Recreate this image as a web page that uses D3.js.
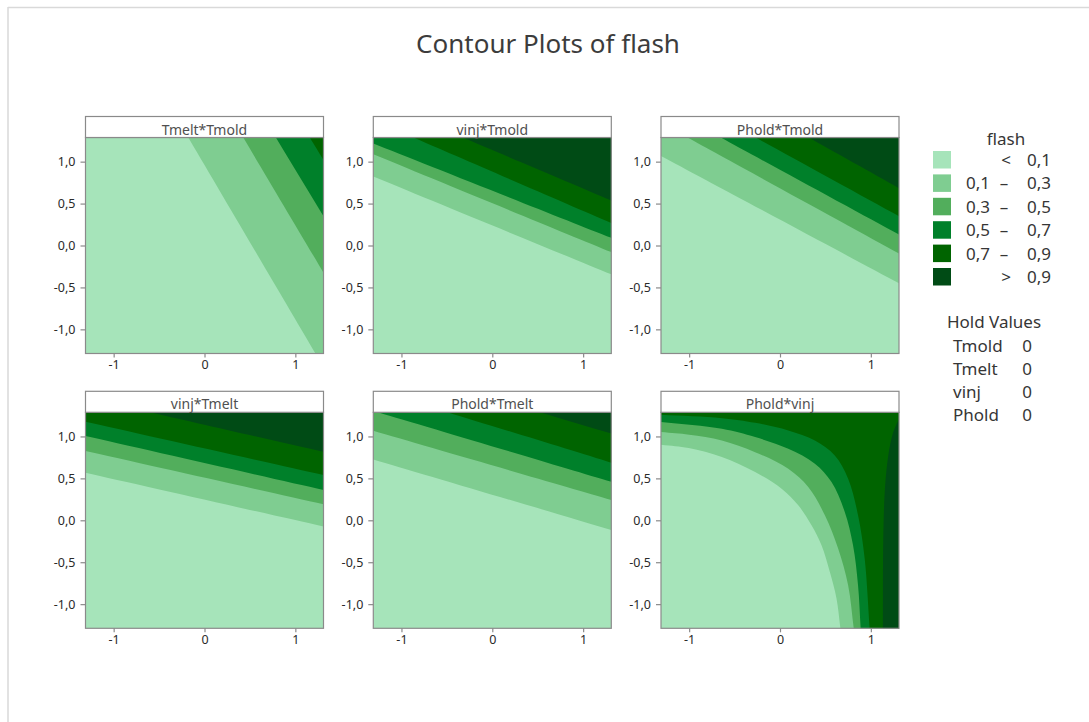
<!DOCTYPE html>
<html>
<head>
<meta charset="utf-8">
<script src="https://cdn.jsdelivr.net/npm/d3@7"></script>
<style>
  html, body { margin: 0; padding: 0; background: #ffffff; }
  svg { display: block; font-family: "Noto Sans", "Open Sans", sans-serif; }
</style>
</head>
<body>
<svg id="chart" width="1089" height="722"></svg>
<script>
// ---- Data -------------------------------------------------------------
// Contour levels of the response "flash" and the band labels of the legend
const levels = [0.1, 0.3, 0.5, 0.7, 0.9];
const bandLabels = [["<", "0,1"], ["0,1", "0,3"], ["0,3", "0,5"], ["0,5", "0,7"], ["0,7", "0,9"], [">", "0,9"]];
const bandColors = ["#a6e4ba", "#7fcd91", "#52ae5c", "#00802a", "#006400", "#004b15"];

const panelTitles = ["Tmelt*Tmold", "vinj*Tmold", "Phold*Tmold", "vinj*Tmelt", "Phold*Tmelt", "Phold*vinj"];
const xTicks = [-1, 0, 1];
const yTicks = [-1, -0.5, 0, 0.5, 1];
const factorRangeX = [-1.31, 1.31];
const factorRangeY = [-1.288, 1.288];

const holdFactors = ["Tmold", "Tmelt", "vinj", "Phold"];
const holdValues = [0, 0, 0, 0];

// Contour boundaries (coded units): each boundary separates the band below
// its level from the band above it (upper-right side).
const tmeltTmold = [
  { level: 0.1, path: [[-0.18, 1.29], [1.223, -1.29]] },
  { level: 0.3, path: [[0.425, 1.29], [1.31, -0.324]] },
  { level: 0.5, path: [[0.784, 1.29], [1.31, 0.348]] },
  { level: 0.7, path: [[1.157, 1.29], [1.31, 1.02]] }
];
const vinjTmold = [
  { level: 0.1, path: [[-1.31, 0.822], [1.31, -0.344]] },
  { level: 0.3, path: [[-1.31, 1.087], [1.31, -0.079]] },
  { level: 0.5, path: [[-1.31, 1.217], [1.31, 0.091]] },
  { level: 0.7, path: [[-0.876, 1.29], [1.31, 0.269]] },
  { level: 0.9, path: [[-0.331, 1.29], [1.31, 0.538]] }
];
const pholdTmold = [
  { level: 0.1, path: [[-1.31, 1.067], [1.31, -0.451]] },
  { level: 0.3, path: [[-1.024, 1.29], [1.31, -0.095]] },
  { level: 0.5, path: [[-0.658, 1.29], [1.31, 0.130]] },
  { level: 0.7, path: [[-0.274, 1.29], [1.31, 0.348]] },
  { level: 0.9, path: [[0.311, 1.29], [1.31, 0.684]] }
];
const vinjTmelt = [
  { level: 0.1, path: [[-1.31, 0.567], [1.31, -0.075]] },
  { level: 0.3, path: [[-1.31, 0.825], [1.31, 0.19]] },
  { level: 0.5, path: [[-1.31, 1.004], [1.31, 0.361]] },
  { level: 0.7, path: [[-1.31, 1.175], [1.31, 0.54]] },
  { level: 0.9, path: [[-0.603, 1.29], [1.31, 0.817]] }
];
const pholdTmelt = [
  { level: 0.1, path: [[-1.31, 0.726], [1.31, -0.115]] },
  { level: 0.3, path: [[-1.31, 1.067], [1.31, 0.242]] },
  { level: 0.5, path: [[-1.26, 1.29], [1.31, 0.46]] },
  { level: 0.7, path: [[-0.495, 1.29], [1.31, 0.687]] },
  { level: 0.9, path: [[0.524, 1.29], [1.31, 1.036]] }
];
const pholdVinj = [
  { level: 0.1, path: [[-1.31, 0.90], [-1.005, 0.861], [-0.64, 0.754], [-0.274, 0.575], [0.018, 0.377],
                       [0.201, 0.179], [0.347, -0.06], [0.457, -0.298], [0.548, -0.615], [0.622, -0.933], [0.665, -1.29]] },
  { level: 0.3, path: [[-1.31, 1.052], [-1.0, 1.02], [-0.64, 0.952], [-0.274, 0.813], [0.091, 0.615],
                       [0.311, 0.397], [0.494, 0.06], [0.64, -0.337], [0.75, -0.774], [0.812, -1.29]] },
  { level: 0.5, path: [[-1.31, 1.171], [-0.64, 1.091], [-0.274, 0.992], [0.091, 0.853], [0.384, 0.675],
                       [0.567, 0.456], [0.713, 0.099], [0.804, -0.298], [0.859, -0.774], [0.888, -1.29]] },
  { level: 0.7, path: [[-1.31, 1.258], [-0.64, 1.218], [-0.274, 1.163], [0.091, 1.071], [0.384, 0.952],
                       [0.603, 0.774], [0.75, 0.496], [0.859, 0.06], [0.932, -0.456], [0.987, -1.29]] },
  { level: 0.9, path: [[1.31, 1.202], [1.284, 1.151], [1.236, 1.012], [1.192, 0.774], [1.155, 0.377],
                       [1.137, -0.218], [1.133, -1.29]] }
];

const panelBoundaries = [tmeltTmold, vinjTmold, pholdTmold, vinjTmelt, pholdTmelt, pholdVinj];

// ---- Layout -----------------------------------------------------------
const svg = d3.select("#chart");
const textColor = "#363636";
const frameColor = "#8a8a8a";
const colLeft = [85.5, 373.3, 661];
const rowTop = [137.5, 412.3];
const plotW = 238, plotH = 216, stripH = 21;
const legendFont = 17;

const locale = d3.formatLocale({ decimal: ",", thousands: ".", grouping: [3], currency: ["", ""], minus: "-" });
const fmtY = locale.format(".1f");
const fmtX = locale.format("d");

// Outer page frame
svg.append("line").attr("x1", 8).attr("x2", 1089).attr("y1", 7.5).attr("y2", 7.5)
  .attr("stroke", "#d9d9d9").attr("stroke-width", 1.5);
svg.append("line").attr("x1", 8).attr("x2", 8).attr("y1", 7).attr("y2", 722)
  .attr("stroke", "#d9d9d9").attr("stroke-width", 1.5);

// Title
svg.append("text").attr("x", 548).attr("y", 53).attr("text-anchor", "middle")
  .attr("font-size", 26).attr("fill", "#3c3c3c").text("Contour Plots of flash");

const defs = svg.append("defs");
const BIG = 6;

// Prolong the ends of a boundary so the filled region always covers the panel edges
function extendEnds(pts) {
  const ext = (a, b) => {
    const dx = a[0] - b[0], dy = a[1] - b[1];
    const len = Math.hypot(dx, dy) || 1;
    return [a[0] + dx / len * 0.6, a[1] + dy / len * 0.6];
  };
  const n = pts.length;
  return [ext(pts[0], pts[1]), ...pts, ext(pts[n - 1], pts[n - 2])];
}

panelTitles.forEach((title, i) => {
  const col = i % 3, row = Math.floor(i / 3);
  const left = colLeft[col], top = rowTop[row];
  const x = d3.scaleLinear().domain(factorRangeX).range([left, left + plotW]);
  const y = d3.scaleLinear().domain(factorRangeY).range([top + plotH, top]);

  const clipId = "clip" + i;
  defs.append("clipPath").attr("id", clipId)
    .append("rect").attr("x", left).attr("y", top).attr("width", plotW).attr("height", plotH);

  const g = svg.append("g");
  const area = g.append("g").attr("clip-path", `url(#${clipId})`);

  // lowest band fills the whole panel
  area.append("rect").attr("x", left).attr("y", top).attr("width", plotW).attr("height", plotH)
    .attr("fill", bandColors[0]);

  const line = d3.line().x(d => x(d[0])).y(d => y(d[1])).curve(d3.curveCatmullRom.alpha(0.5));

  panelBoundaries[i].forEach(b => {
    const pts = extendEnds(b.path);
    const first = pts[0], last = pts[pts.length - 1];
    const closing = [[BIG, last[1]], [BIG, BIG], [first[0], BIG]]
      .map(p => `L${x(p[0])},${y(p[1])}`).join("");
    area.append("path")
      .attr("d", line(pts) + closing + "Z")
      .attr("fill", bandColors[levels.indexOf(b.level) + 1]);
  });

  // plot frame
  g.append("rect").attr("x", left).attr("y", top).attr("width", plotW).attr("height", plotH)
    .attr("fill", "none").attr("stroke", frameColor).attr("stroke-width", 1.2);

  // panel strip
  g.append("rect").attr("x", left).attr("y", top - stripH).attr("width", plotW).attr("height", stripH)
    .attr("fill", "#ffffff").attr("stroke", frameColor).attr("stroke-width", 1.2);
  g.append("text").attr("x", left + plotW / 2).attr("y", top - 3).attr("text-anchor", "middle")
    .attr("font-size", 14).attr("fill", "#505050").text(title);

  // axes
  const ax = g.append("g").attr("transform", `translate(0,${top + plotH})`)
    .call(d3.axisBottom(x).tickValues(xTicks).tickFormat(fmtX).tickSize(4).tickPadding(3));
  const ay = g.append("g").attr("transform", `translate(${left},0)`)
    .call(d3.axisLeft(y).tickValues(yTicks).tickFormat(fmtY).tickSize(5).tickPadding(5));
  [ax, ay].forEach(a => {
    a.select(".domain").remove();
    a.selectAll(".tick line").attr("stroke", frameColor).attr("stroke-width", 1.2);
    a.selectAll(".tick text").attr("fill", "#2a2a2a").attr("font-size", 12.5)
      .attr("font-family", "\"Noto Sans\", sans-serif");
  });
});

// ---- Legend -----------------------------------------------------------
const legend = svg.append("g");
legend.append("text").attr("x", 1006).attr("y", 145).attr("text-anchor", "middle")
  .attr("font-size", legendFont).attr("fill", textColor).text("flash");

const rowY = d3.scaleLinear().domain([0, 1]).range([151, 174.4]);
bandLabels.forEach((lab, k) => {
  const yy = rowY(k);
  legend.append("rect").attr("x", 933).attr("y", yy).attr("width", 18).attr("height", 17.5)
    .attr("fill", bandColors[k]);
  const base = yy + 15;
  if (lab[0] === "<" || lab[0] === ">") {
    legend.append("text").attr("x", 1006).attr("y", base).attr("text-anchor", "middle")
      .attr("font-size", legendFont).attr("fill", textColor).text(lab[0]);
  } else {
    legend.append("text").attr("x", 990).attr("y", base).attr("text-anchor", "end")
      .attr("font-size", legendFont).attr("fill", textColor).text(lab[0]);
    legend.append("text").attr("x", 1004).attr("y", base).attr("text-anchor", "middle")
      .attr("font-size", legendFont).attr("fill", textColor).text("–");
  }
  legend.append("text").attr("x", 1051).attr("y", base).attr("text-anchor", "end")
    .attr("font-size", legendFont).attr("fill", textColor).text(lab[1]);
});

// Hold values
legend.append("text").attr("x", 994).attr("y", 328).attr("text-anchor", "middle")
  .attr("font-size", legendFont).attr("fill", textColor).text("Hold Values");
holdFactors.forEach((f, k) => {
  const base = 352 + k * 23;
  legend.append("text").attr("x", 953).attr("y", base).attr("font-size", legendFont)
    .attr("fill", textColor).text(f);
  legend.append("text").attr("x", 1027).attr("y", base).attr("text-anchor", "middle")
    .attr("font-size", legendFont).attr("fill", textColor).text(holdValues[k]);
});
</script>
</body>
</html>
